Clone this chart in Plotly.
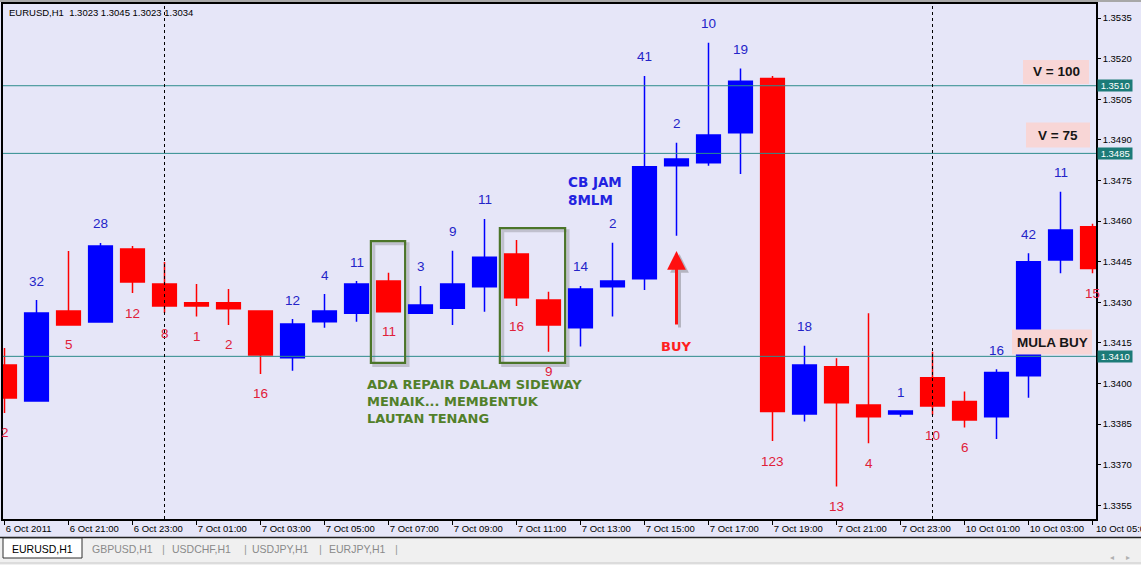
import plotly.graph_objects as go

# ---------------- data ----------------
bar_index = list(range(35))
opens = [1.34068, 1.33935, 1.34268, 1.34227, 1.34497, 1.34367, 1.34298, 1.34298, 1.34268, 1.34095,
         1.34228, 1.34259, 1.34378, 1.34259, 1.34278, 1.34357, 1.34478, 1.34308, 1.34206, 1.34357,
         1.34387, 1.34804, 1.34815, 1.34926, 1.35127, 1.33887, 1.34062, 1.33920, 1.33887, 1.34021,
         1.33933, 1.33877, 1.34028, 1.34456, 1.34579]
highs = [1.34131, 1.34308, 1.34489, 1.34519, 1.34508, 1.34449, 1.34367, 1.34349, 1.34268, 1.34238,
         1.34330, 1.34378, 1.34409, 1.34360, 1.34490, 1.34608, 1.34530, 1.34339, 1.34360, 1.34520,
         1.35136, 1.34889, 1.35259, 1.35164, 1.35136, 1.34139, 1.34093, 1.34259, 1.33898, 1.34117,
         1.33970, 1.34052, 1.34481, 1.34708, 1.34590]
lows = [1.33891, 1.33935, 1.34216, 1.34227, 1.34334, 1.34260, 1.34247, 1.34216, 1.34035, 1.34047,
        1.34206, 1.34228, 1.34265, 1.34259, 1.34216, 1.34265, 1.34286, 1.34117, 1.34136, 1.34247,
        1.34345, 1.34546, 1.34804, 1.34774, 1.33787, 1.33859, 1.33619, 1.33779, 1.33877, 1.33883,
        1.33837, 1.33795, 1.33947, 1.34407, 1.34407]
closes = [1.33946, 1.34260, 1.34216, 1.34508, 1.34375, 1.34286, 1.34286, 1.34276, 1.34105, 1.34220,
          1.34268, 1.34367, 1.34265, 1.34290, 1.34367, 1.34466, 1.34317, 1.34216, 1.34349, 1.34378,
          1.34801, 1.34829, 1.34918, 1.35117, 1.33896, 1.34068, 1.33929, 1.33877, 1.33898, 1.33917,
          1.33865, 1.34040, 1.34450, 1.34567, 1.34425]
bar_counts = [2, 32, 5, 28, 12, 8, 1, 2, 16, 12, 4, 11, 11, 3, 9, 11, 16, 9, 14, 2,
              41, 2, 10, 19, 123, 18, 13, 4, 1, 10, 6, 16, 42, 11, 15]

tick_index = [0, 2, 4, 6, 8, 10, 12, 14, 16, 18, 20, 22, 24, 26, 28, 30, 32, 34]
tick_text = ["6 Oct 2011", "6 Oct 21:00", "6 Oct 23:00", "7 Oct 01:00", "7 Oct 03:00",
             "7 Oct 05:00", "7 Oct 07:00", "7 Oct 09:00", "7 Oct 11:00", "7 Oct 13:00",
             "7 Oct 15:00", "7 Oct 17:00", "7 Oct 19:00", "7 Oct 21:00", "7 Oct 23:00",
             "10 Oct 01:00", "10 Oct 03:00", "10 Oct 05:00"]
price_ticks = [1.3355, 1.3370, 1.3385, 1.3400, 1.3415, 1.3430, 1.3445, 1.3460,
               1.3475, 1.3490, 1.3505, 1.3520, 1.3535]
level_prices = [1.3510, 1.3485, 1.3410]
level_labels = ["1.3510", "1.3485", "1.3410"]
separator_index = [5, 29]
tab_names = ["EURUSD,H1", "GBPUSD,H1", "USDCHF,H1", "USDJPY,H1", "EURJPY,H1"]

# ---------------- styles ----------------
BG = "#E6E6F8"
UP = "#0000FF"
DN = "#FF0000"
TEAL_LINE = "#2E8C8C"
TEAL_LABEL = "#1C7B78"
GREEN = "#4B7529"
GREEN_TXT = "#52802A"
PINK = "#F8D6D6"
TICK_FONT = dict(family="Liberation Sans", size=9.5, color="black")

# geometry helpers (pixel -> paper)
PL, PR, PT, PB = 3, 1096, 4, 519
def px_x(x):
    return (x - PL) / (PR - PL)
def px_y(y):
    return (PB - y) / (PB - PT)

fig = go.Figure()
fig.add_trace(go.Candlestick(
    x=bar_index, open=opens, high=highs, low=lows, close=closes,
    increasing=dict(line=dict(color=UP, width=1.5), fillcolor=UP),
    decreasing=dict(line=dict(color=DN, width=1.5), fillcolor=DN),
    whiskerwidth=0, hoverinfo="skip", showlegend=False,
))

annotations = []
shapes = []

# count labels
for k, o, h, l, c, n in zip(bar_index, opens, highs, lows, closes, bar_counts):
    if c >= o:
        annotations.append(dict(x=k, y=h, text=str(n), showarrow=False, yshift=19,
                                xanchor="center", yanchor="middle",
                                font=dict(family="Liberation Sans", size=13.5, color="#2424C8")))
    else:
        annotations.append(dict(x=k, y=l, text=str(n), showarrow=False, yshift=-20,
                                xanchor="center", yanchor="middle",
                                font=dict(family="Liberation Sans", size=13.5, color="#E0203A")))

# horizontal levels
for p, lab in zip(level_prices, level_labels):
    shapes.append(dict(type="line", xref="paper", x0=0, x1=1, yref="y", y0=p, y1=p,
                       line=dict(color=TEAL_LINE, width=1)))
    annotations.append(dict(xref="paper", x=1, xanchor="left", xshift=1, yref="y", y=p,
                            yanchor="middle",
                            text="\u00a0" + lab + "\u00a0", showarrow=False, bgcolor=TEAL_LABEL,
                            borderpad=0,
                            font=dict(family="Liberation Sans", size=9.5, color="white")))

# day separators
for s in separator_index:
    shapes.append(dict(type="line", xref="x", x0=s, x1=s, yref="paper", y0=0, y1=1,
                       line=dict(color="black", width=1, dash="dot")))

# green boxes (with soft shadow)
for (x0, x1, y0, y1) in [(11.45, 12.52, 1.34076, 1.34526), (15.48, 17.52, 1.34076, 1.34574)]:
    shapes.append(dict(type="rect", xref="x", yref="y", x0=x0 + 0.09, x1=x1 + 0.09,
                       y0=y0 - 0.00010, y1=y1 - 0.00010,
                       line=dict(color="rgba(80,80,80,0.25)", width=3), layer="below"))
    shapes.append(dict(type="rect", xref="x", yref="y", x0=x0, x1=x1, y0=y0, y1=y1,
                       line=dict(color=GREEN, width=2.2)))

# text notes
annotations.append(dict(xref="x", yref="y", x=11.27, y=1.33932, xanchor="left", yanchor="middle",
                        text="ADA REPAIR DALAM SIDEWAY<br>MENAIK... MEMBENTUK<br>LAUTAN TENANG",
                        align="left", showarrow=False,
                        font=dict(family="DejaVu Sans", size=13, color=GREEN_TXT, weight="bold")))
annotations.append(dict(xref="x", yref="y", x=17.56, y=1.34711, xanchor="left", yanchor="middle",
                        text="CB JAM<br>8MLM", align="left", showarrow=False,
                        font=dict(family="DejaVu Sans", size=13.5, color="#2222E0", weight="bold")))
annotations.append(dict(xref="x", yref="y", x=20.99, y=1.34135, text="BUY", showarrow=False,
                        xanchor="center", yanchor="middle",
                        font=dict(family="DejaVu Sans", size=13, color="#FF2020", weight="bold")))
# arrow shadow + arrow
annotations.append(dict(xref="x", yref="y", x=21, y=1.34489, axref="x", ayref="y", ax=21, ay=1.34212,
                        text="", showarrow=True, arrowhead=2, arrowsize=1.25, arrowwidth=3,
                        arrowcolor="rgba(90,90,90,0.35)", xshift=3, yshift=-3))
annotations.append(dict(xref="x", yref="y", x=21, y=1.34489, axref="x", ayref="y", ax=21, ay=1.34212,
                        text="", showarrow=True, arrowhead=2, arrowsize=1.25, arrowwidth=3,
                        arrowcolor="#FF1010"))

# pink labels
for txt, cx, cy, w, h in [("V = 100", 1056, 72, 66, 24), ("V = 75", 1058, 135, 64, 25),
                          ("MULA BUY", 1052, 342, 80, 25)]:
    shapes.append(dict(type="rect", xref="paper", yref="paper",
                       x0=px_x(cx - w / 2), x1=px_x(cx + w / 2),
                       y0=px_y(cy + h / 2), y1=px_y(cy - h / 2),
                       fillcolor=PINK, line=dict(width=0)))
    annotations.append(dict(xref="paper", yref="paper", x=px_x(cx), y=px_y(cy), text=txt,
                            showarrow=False, xanchor="center", yanchor="middle",
                            font=dict(family="Liberation Sans", size=13.5, color="#151515",
                                      weight="bold")))

# title
annotations.append(dict(xref="paper", yref="paper", x=px_x(7), y=px_y(12), xanchor="left",
                        yanchor="middle",
                        text="EURUSD,H1\u00a0\u00a01.3023 1.3045 1.3023 1.3034", showarrow=False,
                        font=dict(family="Liberation Sans", size=9.5, color="black")))

# last time label (cut by the window edge as in the terminal)
annotations.append(dict(xref="x", yref="paper", x=tick_index[-1], y=px_y(528.5), xanchor="left",
                        yanchor="middle", xshift=1, text=tick_text[-1], showarrow=False,
                        font=TICK_FONT))

# bottom tab bar
shapes.append(dict(type="rect", xref="paper", yref="paper", x0=px_x(-2), x1=px_x(1145),
                   y0=px_y(566), y1=px_y(538), fillcolor="#F0F0F0", line=dict(width=0)))
shapes.append(dict(type="line", xref="paper", yref="paper", x0=px_x(-2), x1=px_x(1145),
                   y0=px_y(537.5), y1=px_y(537.5), line=dict(color="#202020", width=1.5)))
shapes.append(dict(type="line", xref="paper", yref="paper", x0=px_x(-2), x1=px_x(1145),
                   y0=px_y(563), y1=px_y(563), line=dict(color="#C8C8C8", width=1)))
shapes.append(dict(type="rect", xref="paper", yref="paper", x0=px_x(3), x1=px_x(82),
                   y0=px_y(558), y1=px_y(538), fillcolor="white",
                   line=dict(color="#303030", width=1)))
tab_centres = [42, 122, 201, 281, 357]
for i, (name, cx) in enumerate(zip(tab_names, tab_centres)):
    annotations.append(dict(xref="paper", yref="paper", x=px_x(cx), y=px_y(548.5), text=name,
                            showarrow=False, xanchor="center", yanchor="middle",
                            font=dict(family="Liberation Sans", size=10.5,
                                      color="black" if i == 0 else "#8A8A8A")))
for sx in [163, 245, 320, 396]:
    annotations.append(dict(xref="paper", yref="paper", x=px_x(sx), y=px_y(548.5), text="|",
                            showarrow=False, xanchor="center", yanchor="middle",
                            font=dict(family="Liberation Sans", size=11, color="#9A9A9A")))
for sx, g in [(1112, "\u25c2"), (1128, "\u25b8")]:
    annotations.append(dict(xref="paper", yref="paper", x=px_x(sx), y=px_y(557), text=g,
                            showarrow=False, xanchor="center", yanchor="middle",
                            font=dict(family="DejaVu Sans", size=8, color="#B0B0B0")))
# window top frame
shapes.append(dict(type="rect", xref="paper", yref="paper", x0=px_x(-2), x1=px_x(1145),
                   y0=px_y(2), y1=px_y(-2), fillcolor="#A8A8A8", line=dict(width=0)))

fig.update_layout(
    width=1141, height=565,
    margin=dict(l=PL, r=1141 - PR, t=PT, b=565 - PB, pad=0, autoexpand=False),
    paper_bgcolor=BG, plot_bgcolor=BG,
    boxgap=0.26, boxgroupgap=0,
    showlegend=False,
    annotations=annotations, shapes=shapes,
    xaxis=dict(range=[(PL - 4.5) / 32, (PR - 4.5) / 32], rangeslider=dict(visible=False),
               tickmode="array", tickvals=tick_index, ticktext=tick_text[:-1] + [""],
               ticks="outside", ticklen=4, tickcolor="black", ticklabelposition="outside right",
               showgrid=False, zeroline=False, showline=True, linecolor="black", linewidth=1.5,
               mirror=True, tickfont=TICK_FONT, fixedrange=True),
    yaxis=dict(side="right", range=[1.33499, 1.35402], tickmode="array", tickvals=price_ticks,
               ticktext=[f"{v:.4f}" for v in price_ticks],
               ticks="outside", ticklen=3, tickcolor="black",
               showgrid=False, zeroline=False, showline=True, linecolor="black", linewidth=1.5,
               mirror=True, tickfont=TICK_FONT, fixedrange=True),
)

fig.write_html("out.html", config=dict(displayModeBar=False),
               post_script="document.body.style.margin='0';document.body.style.overflow='hidden';")
